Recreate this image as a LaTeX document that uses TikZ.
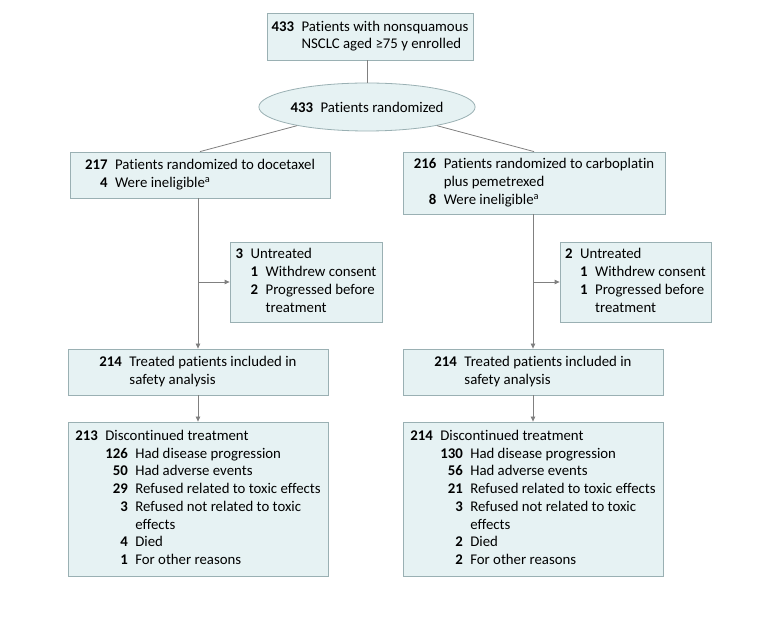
\documentclass[tikz,border=0pt]{standalone}
\usepackage{fontspec}
\setmainfont[Ligatures={NoCommon}]{Carlito}
\usetikzlibrary{shapes.geometric,arrows.meta}
\definecolor{boxfill}{HTML}{E6F2F3}
\definecolor{boxline}{HTML}{9AB0B3}
\definecolor{conn}{HTML}{808080}
\newcommand{\nb}[1]{\textbf{#1}}
\newcommand{\gp}{\hspace{7.5pt}}
\begin{document}
\begin{tikzpicture}[x=1pt,y=-1pt,
  font=\fontsize{14.8}{17.7}\selectfont,
  box/.style={draw=boxline, fill=boxfill, line width=0.8pt, inner sep=0pt, rectangle},
  conn/.style={draw=conn, line width=0.8pt},
  arr/.style={conn, -{Triangle[length=5pt,width=4.5pt]}}]
\useasboundingbox (0,0) rectangle (780,620);

\node[box, minimum width=206pt, minimum height=47pt] (top) at (370,36.5)
 {\begin{tabular}{@{}r@{\gp}l@{}}\nb{433} & Patients with nonsquamous\\ & NSCLC aged ≥75 y enrolled\end{tabular}};

\node[box, ellipse, minimum width=190pt, minimum height=48pt] (ell) at (367,107)
 {\nb{433}\gp Patients randomized};

\node[box, minimum width=260pt, minimum height=46pt] (b2) at (200,175)
 {\begin{tabular}{@{}r@{\gp}l@{}}\nb{217} & Patients randomized to docetaxel\\ \nb{4} & Were ineligible\textsuperscript{a}\end{tabular}};

\node[box, minimum width=262pt, minimum height=62pt] (b3) at (534,183)
 {\begin{tabular}{@{}r@{\gp}l@{}}\nb{216} & Patients randomized to carboplatin\\ & plus pemetrexed\\ \nb{8} & Were ineligible\textsuperscript{a}\end{tabular}};

\node[box, minimum width=152pt, minimum height=80pt] (u1) at (306,282)
 {\begin{tabular}{@{}r@{\gp}r@{\gp}l@{}}\nb{3} & \multicolumn{2}{@{}l@{}}{Untreated}\\ & \nb{1} & Withdrew consent\\ & \nb{2} & Progressed before\\ & & treatment\end{tabular}};

\node[box, minimum width=151pt, minimum height=80pt] (u2) at (635.5,282)
 {\begin{tabular}{@{}r@{\gp}r@{\gp}l@{}}\nb{2} & \multicolumn{2}{@{}l@{}}{Untreated}\\ & \nb{1} & Withdrew consent\\ & \nb{1} & Progressed before\\ & & treatment\end{tabular}};

\node[box, minimum width=260pt, minimum height=46pt] (t1) at (198,372)
 {\begin{tabular}{@{}r@{\gp}l@{}}\nb{214} & Treated patients included in\\ & safety analysis\end{tabular}};

\node[box, minimum width=260pt, minimum height=46pt] (t2) at (533,372)
 {\begin{tabular}{@{}r@{\gp}l@{}}\nb{214} & Treated patients included in\\ & safety analysis\end{tabular}};

\node[box, minimum width=260pt, minimum height=154pt] (d1) at (198,499)
 {\begin{tabular}{@{}r@{\gp}r@{\gp}l@{}}\nb{213} & \multicolumn{2}{@{}l@{}}{Discontinued treatment}\\
 & \nb{126} & Had disease progression\\
 & \nb{50} & Had adverse events\\
 & \nb{29} & Refused related to toxic effects\\
 & \nb{3} & Refused not related to toxic\\
 & & effects\\
 & \nb{4} & Died\\
 & \nb{1} & For other reasons\end{tabular}};

\node[box, minimum width=260pt, minimum height=154pt] (d2) at (533,499)
 {\begin{tabular}{@{}r@{\gp}r@{\gp}l@{}}\nb{214} & \multicolumn{2}{@{}l@{}}{Discontinued treatment}\\
 & \nb{130} & Had disease progression\\
 & \nb{56} & Had adverse events\\
 & \nb{21} & Refused related to toxic effects\\
 & \nb{3} & Refused not related to toxic\\
 & & effects\\
 & \nb{2} & Died\\
 & \nb{2} & For other reasons\end{tabular}};

\draw[conn] (top.south -| ell.north) -- (ell.north);
\draw[conn] (ell) -- (b2.north);
\draw[conn] (ell) -- (b3.north);

\coordinate (j1) at (t1.north |- u1.west);
\coordinate (j2) at (t2.north |- u2.west);
\draw[arr] (t1.north |- b2.south) -- (t1.north);
\draw[arr] (j1) -- (u1.west);
\draw[arr] (t2.north |- b3.south) -- (t2.north);
\draw[arr] (j2) -- (u2.west);
\draw[arr] (t1.south) -- (d1.north);
\draw[arr] (t2.south) -- (d2.north);
\end{tikzpicture}
\end{document}
